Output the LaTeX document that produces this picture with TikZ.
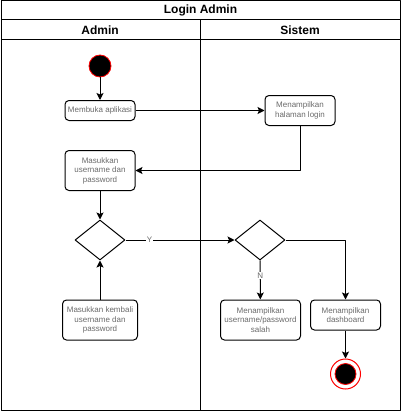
\documentclass[tikz,border=0pt]{standalone}
\usepackage{fontspec}
\setmainfont{Liberation Sans}
\usepackage{xcolor}
\usepackage{tikz}
\usetikzlibrary{arrows.meta,shapes.geometric}
\definecolor{ink}{HTML}{000000}
\definecolor{muted}{HTML}{6A6A6A}
\definecolor{ring}{HTML}{FF0000}
\tikzset{
  base/.style={draw=ink, line width=1pt, line join=round},
  flow/.style={base, -{Stealth[length=7pt,width=7pt,inset=1.5pt]}},
  act/.style={base, rounded corners=4pt, align=center, text=muted, inner sep=1pt, font=\fontsize{8}{9.5}\selectfont},
  decision/.style={base, diamond, minimum width=50pt, minimum height=40pt, inner sep=0pt},
  startdot/.style={circle, fill=ink, draw=ring, line width=0.8pt, minimum size=22pt, inner sep=0pt},
  endring/.style={circle, fill=white, draw=ring, line width=1pt, minimum size=30pt, inner sep=0pt},
  lab/.style={text=muted, fill=white, inner sep=1pt, font=\fontsize{8}{9}\selectfont},
  head/.style={text=ink, font=\bfseries\fontsize{12}{14}\selectfont}
}
\begin{document}
\begin{tikzpicture}[x=1pt,y=-1pt]
  \useasboundingbox (0,0) rectangle (402,412);
  \draw[base] (1,1) rectangle (400,410);
  \draw[base] (1,20) -- (400,20);
  \draw[base] (1,40) -- (400,40);
  \draw[base] (200,20) -- (200,410);
  \node[head] (title) at (200.5,10.5) {Login Admin};
  \node[head] (laneA) at (100,30.5) {Admin};
  \node[head] (laneS) at (300,30.5) {Sistem};
  \node[startdot] (start) at (100,66) {};
  \node[act, minimum width=70pt, minimum height=20pt] (buka) at (100,110.5) {Membuka aplikasi};
  \node[act, minimum width=70pt, minimum height=30pt] (login) at (300,110.5) {Menampilkan\\halaman login};
  \node[act, minimum width=70pt, minimum height=40pt] (masuk) at (100,170.5) {Masukkan\\username dan\\password};
  \node[decision] (cek) at (100,240) {};
  \node[decision] (valid) at (260,240) {};
  \node[act, minimum width=75pt, minimum height=40pt] (ulang) at (100,320) {Masukkan kembali\\username dan\\password};
  \node[act, minimum width=80pt, minimum height=40pt] (salah) at (260.5,320) {Menampilkan\\username/password\\salah};
  \node[act, minimum width=70pt, minimum height=30pt] (dash) at (345.5,315) {Menampilkan\\dashboard};
  \node[endring] (stop) at (345.5,374) {};
  \node[startdot, minimum size=21pt] (stopdot) at (stop) {};
  \draw[flow] (start) -- (buka);
  \draw[flow] (buka) -- (login);
  \draw[flow] (login.south) |- (masuk.east);
  \draw[flow] (masuk) -- (cek);
  \draw[flow] (ulang) -- (cek);
  \draw[flow] (cek) -- node[lab, pos=0.22] (ya) {Y} (valid);
  \draw[flow] (valid) -- node[lab, pos=0.38] (tidak) {N} (salah);
  \draw[flow] (valid.east) -| (dash.north);
  \draw[flow] (dash) -- (stop);
\end{tikzpicture}
\end{document}
